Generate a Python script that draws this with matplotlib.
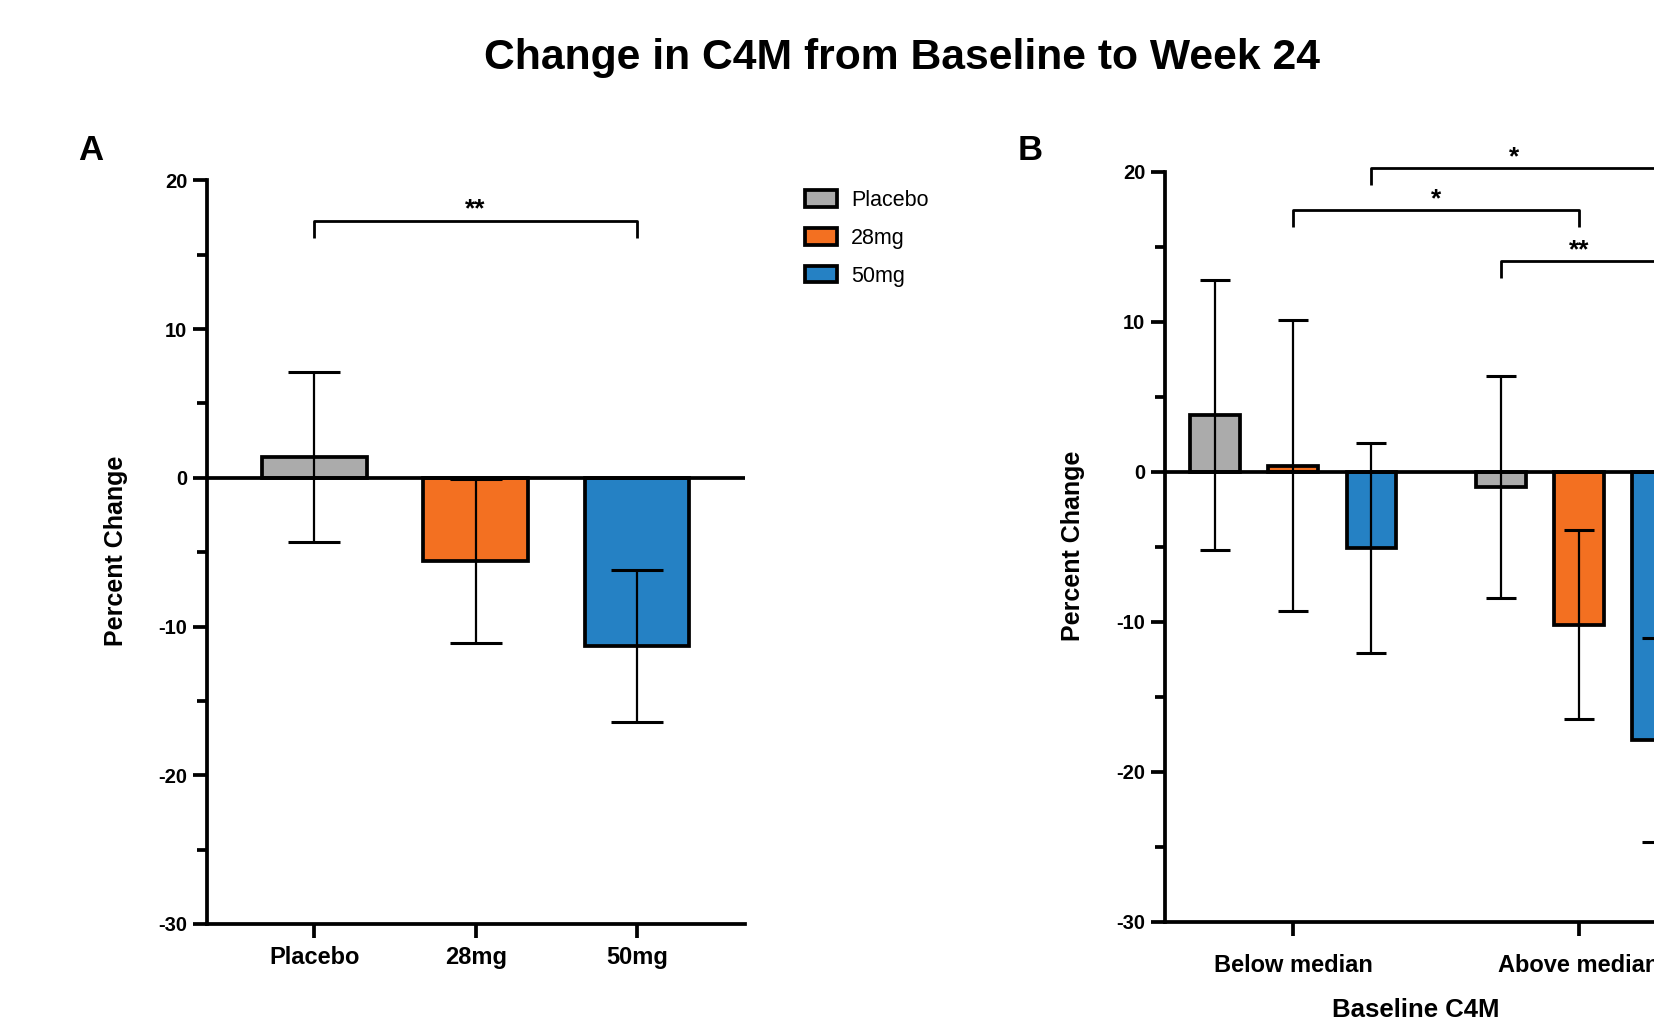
import numpy as np
import matplotlib.pyplot as plt
from matplotlib.patches import Patch

plt.rcParams['font.family'] = ['Liberation Sans', 'DejaVu Sans']
plt.rcParams['axes.unicode_minus'] = False

# treatment arms
groups = ['Placebo', '28mg', '50mg']
colors = ['#ABABAB', '#F37021', '#2581C4']

# A: overall percent change (mean, error)
mean_all = [1.4, -5.6, -11.3]
err_all = [5.7, 5.5, 5.1]

# B: split by baseline C4M
strata = ['Below median', 'Above median']
mean_below = [3.8, 0.4, -5.1]
err_below = [9.0, 9.7, 7.0]
mean_above = [-1.0, -10.2, -17.9]
err_above = [7.4, 6.3, 6.8]

LW = 2.7


def style_axes(ax, xpad):
    ax.spines['top'].set_visible(False)
    ax.spines['right'].set_visible(False)
    ax.spines['left'].set_linewidth(LW)
    ax.spines['bottom'].set_linewidth(LW)
    ax.set_ylim(-30, 20)
    ax.set_yticks([-30, -20, -10, 0, 10, 20])
    ax.set_yticks(np.arange(-25, 20, 10), minor=True)
    ax.tick_params(axis='y', which='major', length=10, width=LW, labelsize=14.5, pad=4)
    ax.tick_params(axis='y', which='minor', length=7, width=LW)
    ax.tick_params(axis='x', length=10, width=LW, labelsize=17, pad=xpad)
    for lab in ax.get_yticklabels() + ax.get_xticklabels():
        lab.set_fontweight('bold')
    ax.axhline(0, color='black', lw=LW, zorder=3)


def bracket(ax, x1, x2, y, text, leg=1.15):
    ax.plot([x1, x1, x2, x2], [y - leg, y, y, y - leg], color='black', lw=2,
            clip_on=False, solid_capstyle='butt')
    ax.text((x1 + x2) / 2, y - 0.05, text, ha='center', va='bottom',
            fontsize=19, fontweight='bold')


fig = plt.figure(figsize=(16.54, 10.24), dpi=100)

# ---- panel A
axA = fig.add_axes([0.1250, 0.0977, 0.3252, 0.7261])
xa = np.arange(len(groups))
axA.bar(xa, mean_all, width=0.65, color=colors, edgecolor='black', linewidth=LW, zorder=2)
axA.errorbar(xa, mean_all, yerr=err_all, fmt='none', ecolor='black', elinewidth=1.6,
             capsize=19, capthick=2.2, zorder=4)
axA.set_xlim(-0.667, 2.667)
axA.set_xticks(xa)
axA.set_xticklabels(groups)
style_axes(axA, 6)
bracket(axA, 0, 2, 17.3, '**')

# ---- panel B
axB = fig.add_axes([0.7041, 0.0997, 0.3284, 0.7324])
off = 0.273
xb = np.arange(len(strata))
for j in range(len(groups)):
    means = [mean_below[j], mean_above[j]]
    errs = [err_below[j], err_above[j]]
    pos = xb + (j - 1) * off
    axB.bar(pos, means, width=0.173, color=colors[j], edgecolor='black', linewidth=LW, zorder=2)
    axB.errorbar(pos, means, yerr=errs, fmt='none', ecolor='black', elinewidth=1.6,
                 capsize=11, capthick=2.2, zorder=4)
axB.set_xlim(-0.45, 1.45)
axB.set_xticks(xb)
axB.set_xticklabels(strata)
style_axes(axB, 13)
bracket(axB, 0 + off, 1 + off, 20.25, '*')
bracket(axB, 0, 1, 17.45, '*')
bracket(axB, 1 - off, 1 + off, 14.05, '**')

# legend
handles = [Patch(facecolor=c, edgecolor='black', linewidth=LW) for c in colors]
fig.legend(handles, groups, loc='upper left', bbox_to_anchor=(804.8 / 1654, 1 - 190 / 1024),
           frameon=False, fontsize=15.5, handlelength=1.5, handleheight=0.8,
           handletextpad=0.65, labelspacing=0.78, borderpad=0, borderaxespad=0)

# titles and labels
fig.text(902 / 1654, 1 - 58 / 1024, 'Change in C4M from Baseline to Week 24',
         ha='center', va='center', fontsize=30.7, fontweight='bold')
fig.text(91 / 1654, 1 - 150 / 1024, 'A', ha='center', va='center', fontsize=25, fontweight='bold')
fig.text(1030 / 1654, 1 - 150 / 1024, 'B', ha='center', va='center', fontsize=25, fontweight='bold')
fig.text(116 / 1654, 1 - 551 / 1024, 'Percent Change', rotation=90, ha='center', va='center',
         fontsize=18, fontweight='bold')
fig.text(1073 / 1654, 1 - 546 / 1024, 'Percent Change', rotation=90, ha='center', va='center',
         fontsize=18, fontweight='bold')
fig.text(1416 / 1654, 1 - 1010 / 1024, 'Baseline C4M', ha='center', va='center',
         fontsize=18.5, fontweight='bold')

fig.savefig('out.png', dpi=100)
